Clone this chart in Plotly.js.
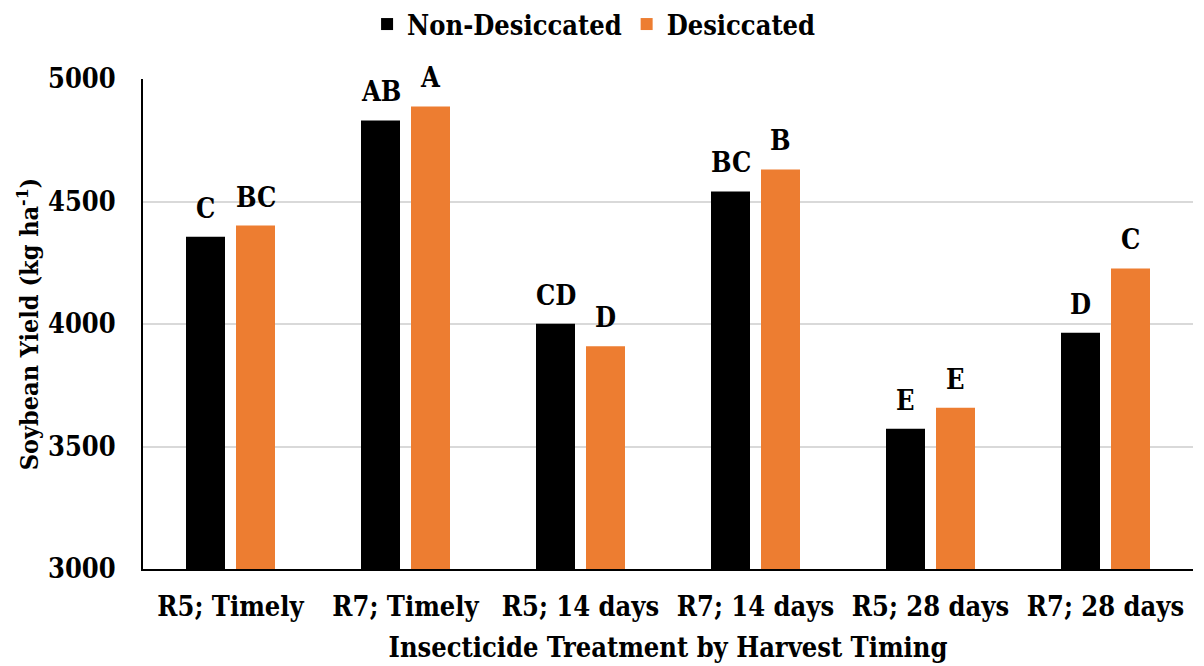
<!DOCTYPE html>
<html><head><meta charset="utf-8">
<script src="https://cdn.plot.ly/plotly-3.0.1.min.js"></script>
<style>body{margin:0;background:#fff}#c{width:1204px;height:666px}</style>
</head><body><div id="c"></div>
<script>
const categories = ["R5; Timely", "R7; Timely", "R5; 14 days", "R7; 14 days", "R5; 28 days", "R7; 28 days"];
const nonDesiccated = [4356, 4831, 4001, 4541, 3572, 3964];
const desiccated = [4402, 4888, 3909, 4631, 3658, 4227];
const nonDesLetters = ["C", "AB", "CD", "BC", "E", "D"];
const desLetters = ["BC", "A", "D", "B", "E", "C"];
const yTicks = [3000, 3500, 4000, 4500, 5000];

const FONT = "'DejaVu Serif Condensed', 'DejaVu Serif', serif";
const SZ = 27;
const traces = [
  {type: "bar", name: "<b>Non-Desiccated</b>", x: categories, y: nonDesiccated, marker: {color: "#000000"}, hoverinfo: "skip"},
  {type: "bar", name: "<b>Desiccated</b>", x: categories, y: desiccated, marker: {color: "#ED7D31"}, hoverinfo: "skip"}
];
const annotations = [];
categories.forEach((c, i) => {
  annotations.push({x: c, y: nonDesiccated[i], xref: "x", yref: "y", text: "<b>" + nonDesLetters[i] + "</b>", showarrow: false, xshift: -25, yshift: 11, yanchor: "bottom", font: {family: FONT, size: SZ, color: "#000"}});
  annotations.push({x: c, y: desiccated[i], xref: "x", yref: "y", text: "<b>" + desLetters[i] + "</b>", showarrow: false, xshift: 25, yshift: 11, yanchor: "bottom", font: {family: FONT, size: SZ, color: "#000"}});
});
const layout = {
  width: 1204, height: 666,
  margin: {l: 143, r: 11, t: 79, b: 97},
  paper_bgcolor: "#fff", plot_bgcolor: "#fff",
  font: {family: FONT, size: SZ, color: "#000"},
  barmode: "group", bargap: 0.4286, bargroupgap: 0.22,
  showlegend: true,
  legend: {orientation: "h", xref: "container", yref: "container", x: 0.493, xanchor: "center", y: 1, yanchor: "top", font: {family: FONT, size: SZ, color: "#000"}, itemclick: false},
  xaxis: {
    type: "category", showline: true, linecolor: "#000", linewidth: 2, ticks: "", showgrid: false,
    ticklabelstandoff: 13,
    tickfont: {family: FONT, size: SZ, color: "#000"}, tickprefix: "<b>", ticksuffix: "</b>",
    title: {text: "<b>Insecticide Treatment by Harvest Timing</b>", font: {family: FONT, size: SZ, color: "#000"}, standoff: 17}
  },
  yaxis: {
    range: [3000, 5000], tickvals: yTicks, ticktext: yTicks.map(v => "<b>" + v + "</b>"),
    showline: true, linecolor: "#000", linewidth: 2, ticks: "",
    showgrid: true, gridcolor: "#d9d9d9", gridwidth: 2, zeroline: false,
    ticklabelstandoff: 20,
    tickfont: {family: FONT, size: SZ, color: "#000"},
    title: {text: "<b>Soybean Yield (kg ha<sup>-1</sup>)</b>", font: {family: FONT, size: 25, color: "#000"}, standoff: 2}
  },
  annotations: annotations
};
Plotly.newPlot("c", traces, layout, {displayModeBar: false, staticPlot: true});
</script></body></html>
